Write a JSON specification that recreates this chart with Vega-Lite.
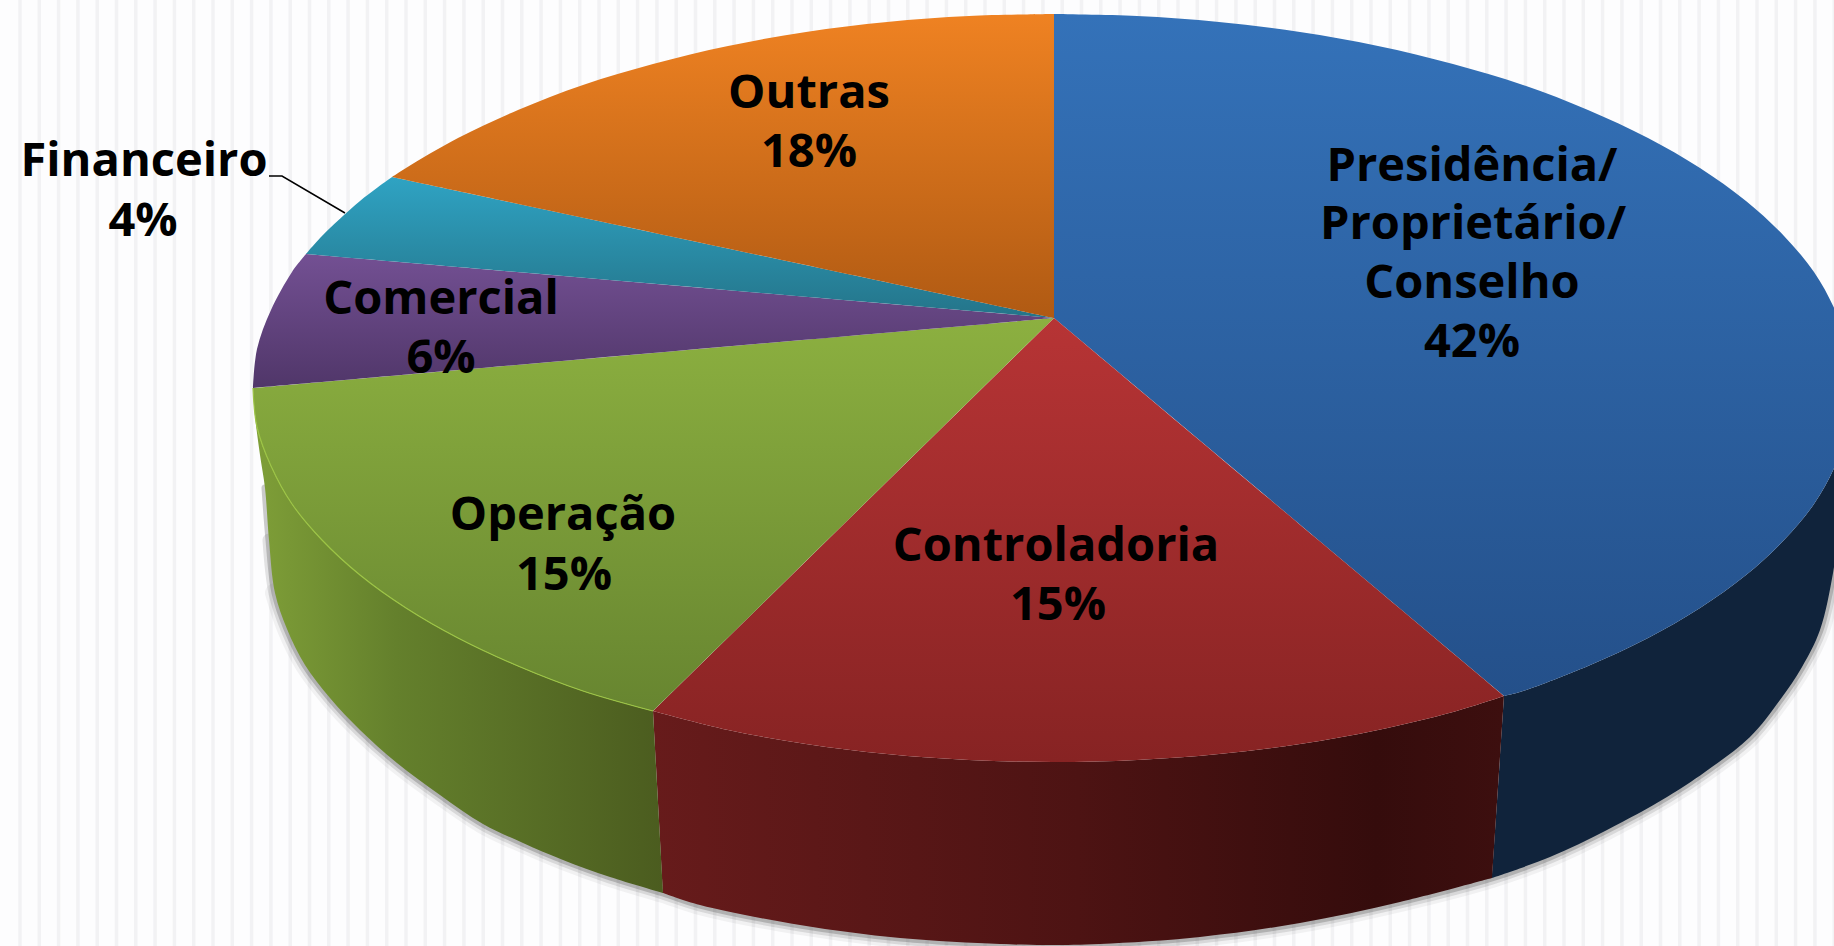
{"$schema":"https://vega.github.io/schema/vega-lite/v6.json","width":1834,"height":946,"padding":0,"autosize":{"type":"none"},"background":"#fdfdfe","view":{"stroke":null},"config":{"axis":{"domain":false,"ticks":false,"labels":false,"title":null,"grid":false}},
"datasets":{
"stripes":[{"x":20},{"x":39.3},{"x":58.6},{"x":77.9},{"x":97.2},{"x":116.5},{"x":135.8},{"x":155.1},{"x":174.4},{"x":193.7},{"x":213},{"x":232.3},{"x":251.6},{"x":270.9},{"x":290.2},{"x":309.5},{"x":328.8},{"x":348.1},{"x":367.4},{"x":386.7},{"x":406},{"x":425.3},{"x":444.6},{"x":463.9},{"x":483.2},{"x":502.5},{"x":521.8},{"x":541.1},{"x":560.4},{"x":579.7},{"x":599},{"x":618.3},{"x":637.6},{"x":656.9},{"x":676.2},{"x":695.5},{"x":714.8},{"x":734.1},{"x":753.4},{"x":772.7},{"x":792},{"x":811.3},{"x":830.6},{"x":849.9},{"x":869.2},{"x":888.5},{"x":907.8},{"x":927.1},{"x":946.4},{"x":965.7},{"x":985},{"x":1004.3},{"x":1023.6},{"x":1042.9},{"x":1062.2},{"x":1081.5},{"x":1100.8},{"x":1120.1},{"x":1139.4},{"x":1158.7},{"x":1178},{"x":1197.3},{"x":1216.6},{"x":1235.9},{"x":1255.2},{"x":1274.5},{"x":1293.8},{"x":1313.1},{"x":1332.4},{"x":1351.7},{"x":1371},{"x":1390.3},{"x":1409.6},{"x":1428.9},{"x":1448.2},{"x":1467.5},{"x":1486.8},{"x":1506.1},{"x":1525.4},{"x":1544.7},{"x":1564},{"x":1583.3},{"x":1602.6},{"x":1621.9},{"x":1641.2},{"x":1660.5},{"x":1679.8},{"x":1699.1},{"x":1718.4},{"x":1737.7},{"x":1757},{"x":1776.3},{"x":1795.6},{"x":1814.9},{"x":1834.2}],
"shape":[
{"s":"Z","i":3,"x":265,"y":488},{"s":"Z","i":4,"x":269,"y":540},{"s":"Z","i":5,"x":275,"y":593},{"s":"Z","i":6,"x":287,"y":629},{"s":"Z","i":7,"x":305,"y":665},{"s":"Z","i":8,"x":330,"y":698},{"s":"Z","i":9,"x":360,"y":730},{"s":"Z","i":10,"x":397,"y":763},{"s":"Z","i":11,"x":440,"y":795},{"s":"Z","i":12,"x":483,"y":824},{"s":"Z","i":13,"x":523,"y":843},{"s":"Z","i":14,"x":563,"y":860},{"s":"Z","i":15,"x":610,"y":877},{"s":"Z","i":16,"x":663,"y":893},{"s":"Z","i":17,"x":700,"y":905},{"s":"Z","i":18,"x":800,"y":925},{"s":"Z","i":19,"x":900,"y":938},{"s":"Z","i":20,"x":1000,"y":944},{"s":"Z","i":21,"x":1045,"y":945},{"s":"Z","i":22,"x":1100,"y":944},{"s":"Z","i":23,"x":1200,"y":937},{"s":"Z","i":24,"x":1300,"y":923},{"s":"Z","i":25,"x":1400,"y":902},{"s":"Z","i":26,"x":1492,"y":878},{"s":"Z","i":27,"x":1550,"y":857},{"s":"Z","i":28,"x":1607,"y":830},{"s":"Z","i":29,"x":1667,"y":797},{"s":"Z","i":30,"x":1705,"y":772},{"s":"Z","i":31,"x":1750,"y":737},{"s":"Z","i":32,"x":1780,"y":700},{"s":"Z","i":33,"x":1802,"y":667},{"s":"Z","i":34,"x":1820,"y":630},{"s":"Z","i":35,"x":1833,"y":573},{"s":"Z","i":36,"x":1840,"y":520},
{"s":"SP","i":1,"x":1849,"y":427},{"s":"SP","i":2,"x":1835,"y":466},{"s":"SP","i":3,"x":1814,"y":504},{"s":"SP","i":4,"x":1784,"y":540},{"s":"SP","i":5,"x":1746,"y":575},{"s":"SP","i":6,"x":1700,"y":608},{"s":"SP","i":7,"x":1648,"y":638},{"s":"SP","i":8,"x":1588,"y":666},{"s":"SP","i":9,"x":1523,"y":691},{"s":"SP","i":10,"x":1504,"y":696},{"s":"SP","i":10.5,"x":1504,"y":696},{"s":"SP","i":11,"x":1492,"y":878},{"s":"SP","i":11.5,"x":1492,"y":878},{"s":"SP","i":12,"x":1550,"y":857},{"s":"SP","i":13,"x":1607,"y":830},{"s":"SP","i":14,"x":1667,"y":797},{"s":"SP","i":15,"x":1705,"y":772},{"s":"SP","i":16,"x":1750,"y":737},{"s":"SP","i":17,"x":1780,"y":700},{"s":"SP","i":18,"x":1802,"y":667},{"s":"SP","i":19,"x":1820,"y":630},{"s":"SP","i":20,"x":1833,"y":573},{"s":"SP","i":21,"x":1840,"y":520},
{"s":"SC","i":1,"x":1504,"y":696},{"s":"SC","i":2,"x":1453,"y":712},{"s":"SC","i":3,"x":1378,"y":730},{"s":"SC","i":4,"x":1300,"y":744},{"s":"SC","i":5,"x":1219,"y":754},{"s":"SC","i":6,"x":1137,"y":760},{"s":"SC","i":7,"x":1053,"y":762},{"s":"SC","i":8,"x":969,"y":760},{"s":"SC","i":9,"x":887,"y":754},{"s":"SC","i":10,"x":806,"y":744},{"s":"SC","i":11,"x":728,"y":730},{"s":"SC","i":12,"x":653,"y":711},{"s":"SC","i":12.5,"x":653,"y":711},{"s":"SC","i":13,"x":663,"y":893},{"s":"SC","i":13.5,"x":663,"y":893},{"s":"SC","i":14,"x":700,"y":905},{"s":"SC","i":15,"x":800,"y":925},{"s":"SC","i":16,"x":900,"y":938},{"s":"SC","i":17,"x":1000,"y":944},{"s":"SC","i":18,"x":1045,"y":945},{"s":"SC","i":19,"x":1100,"y":944},{"s":"SC","i":20,"x":1200,"y":937},{"s":"SC","i":21,"x":1300,"y":923},{"s":"SC","i":22,"x":1400,"y":902},{"s":"SC","i":23,"x":1492,"y":878},
{"s":"SO","i":1,"x":653,"y":711},{"s":"SO","i":2,"x":583,"y":691},{"s":"SO","i":3,"x":518,"y":666},{"s":"SO","i":4,"x":458,"y":638},{"s":"SO","i":5,"x":406,"y":608},{"s":"SO","i":6,"x":360,"y":575},{"s":"SO","i":7,"x":322,"y":540},{"s":"SO","i":8,"x":292,"y":504},{"s":"SO","i":9,"x":271,"y":466},{"s":"SO","i":10,"x":257,"y":427},{"s":"SO","i":11,"x":253,"y":388},{"s":"SO","i":11.5,"x":253,"y":388},{"s":"SO","i":12,"x":255,"y":416},{"s":"SO","i":13,"x":260,"y":455},{"s":"SO","i":14,"x":265,"y":488},{"s":"SO","i":15,"x":269,"y":540},{"s":"SO","i":16,"x":275,"y":593},{"s":"SO","i":17,"x":287,"y":629},{"s":"SO","i":18,"x":305,"y":665},{"s":"SO","i":19,"x":330,"y":698},{"s":"SO","i":20,"x":360,"y":730},{"s":"SO","i":21,"x":397,"y":763},{"s":"SO","i":22,"x":440,"y":795},{"s":"SO","i":23,"x":483,"y":824},{"s":"SO","i":24,"x":523,"y":843},{"s":"SO","i":25,"x":563,"y":860},{"s":"SO","i":26,"x":610,"y":877},{"s":"SO","i":27,"x":663,"y":893},
{"s":"P","i":0,"x":1054,"y":318},{"s":"P","i":1,"x":1054,"y":14},{"s":"P","i":1.5,"x":1054,"y":14},{"s":"P","i":2,"x":1137,"y":16},{"s":"P","i":3,"x":1219,"y":22},{"s":"P","i":4,"x":1300,"y":32},{"s":"P","i":5,"x":1378,"y":46},{"s":"P","i":6,"x":1453,"y":64},{"s":"P","i":7,"x":1523,"y":85},{"s":"P","i":8,"x":1588,"y":110},{"s":"P","i":9,"x":1648,"y":138},{"s":"P","i":10,"x":1700,"y":168},{"s":"P","i":11,"x":1746,"y":201},{"s":"P","i":12,"x":1784,"y":236},{"s":"P","i":13,"x":1814,"y":272},{"s":"P","i":14,"x":1835,"y":310},{"s":"P","i":15,"x":1849,"y":349},{"s":"P","i":16,"x":1853,"y":388},{"s":"P","i":17,"x":1849,"y":427},{"s":"P","i":18,"x":1835,"y":466},{"s":"P","i":19,"x":1814,"y":504},{"s":"P","i":20,"x":1784,"y":540},{"s":"P","i":21,"x":1746,"y":575},{"s":"P","i":22,"x":1700,"y":608},{"s":"P","i":23,"x":1648,"y":638},{"s":"P","i":24,"x":1588,"y":666},{"s":"P","i":25,"x":1523,"y":691},{"s":"P","i":26,"x":1504,"y":696},
{"s":"C","i":0,"x":1054,"y":318},{"s":"C","i":1,"x":1504,"y":696},{"s":"C","i":1.5,"x":1504,"y":696},{"s":"C","i":2,"x":1453,"y":712},{"s":"C","i":3,"x":1378,"y":730},{"s":"C","i":4,"x":1300,"y":744},{"s":"C","i":5,"x":1219,"y":754},{"s":"C","i":6,"x":1137,"y":760},{"s":"C","i":7,"x":1053,"y":762},{"s":"C","i":8,"x":969,"y":760},{"s":"C","i":9,"x":887,"y":754},{"s":"C","i":10,"x":806,"y":744},{"s":"C","i":11,"x":728,"y":730},{"s":"C","i":12,"x":653,"y":711},
{"s":"O","i":0,"x":1054,"y":318},{"s":"O","i":1,"x":653,"y":711},{"s":"O","i":1.5,"x":653,"y":711},{"s":"O","i":2,"x":583,"y":691},{"s":"O","i":3,"x":518,"y":666},{"s":"O","i":4,"x":458,"y":638},{"s":"O","i":5,"x":406,"y":608},{"s":"O","i":6,"x":360,"y":575},{"s":"O","i":7,"x":322,"y":540},{"s":"O","i":8,"x":292,"y":504},{"s":"O","i":9,"x":271,"y":466},{"s":"O","i":10,"x":257,"y":427},{"s":"O","i":11,"x":253,"y":388},
{"s":"M","i":0,"x":1054,"y":318},{"s":"M","i":1,"x":253,"y":388},{"s":"M","i":1.5,"x":253,"y":388},{"s":"M","i":2,"x":257,"y":349},{"s":"M","i":3,"x":271,"y":310},{"s":"M","i":4,"x":292,"y":272},{"s":"M","i":5,"x":306,"y":254},
{"s":"F","i":0,"x":1054,"y":318},{"s":"F","i":1,"x":306,"y":254},{"s":"F","i":1.5,"x":306,"y":254},{"s":"F","i":2,"x":322,"y":236},{"s":"F","i":3,"x":360,"y":201},{"s":"F","i":4,"x":392,"y":177},
{"s":"U","i":0,"x":1054,"y":318},{"s":"U","i":1,"x":392,"y":177},{"s":"U","i":1.5,"x":392,"y":177},{"s":"U","i":2,"x":406,"y":168},{"s":"U","i":3,"x":458,"y":138},{"s":"U","i":4,"x":518,"y":110},{"s":"U","i":5,"x":583,"y":85},{"s":"U","i":6,"x":653,"y":64},{"s":"U","i":7,"x":728,"y":46},{"s":"U","i":8,"x":806,"y":32},{"s":"U","i":9,"x":887,"y":22},{"s":"U","i":10,"x":969,"y":16},{"s":"U","i":11,"x":1054,"y":14},
{"s":"L","i":1,"x":269,"y":176},{"s":"L","i":2,"x":282,"y":176},{"s":"L","i":3,"x":345,"y":213}
],
"labels":[
{"t":"Presidência/","x":1472,"y":181},{"t":"Proprietário/","x":1473,"y":239},{"t":"Conselho","x":1472,"y":298},{"t":"42%","x":1472,"y":357},
{"t":"Controladoria","x":1056,"y":561},{"t":"15%","x":1058,"y":620},
{"t":"Operação","x":563,"y":530},{"t":"15%","x":564,"y":590},
{"t":"Comercial","x":441,"y":314},{"t":"6%","x":441,"y":373},
{"t":"Financeiro","x":144,"y":176},{"t":"4%","x":143,"y":236},
{"t":"Outras","x":809,"y":108},{"t":"18%","x":809,"y":167}
]},
"layer":[
{"data":{"name":"stripes"},"mark":{"type":"rule","stroke":"#f2f2f4","strokeWidth":3.5},"encoding":{"x":{"field":"x","type":"quantitative","scale":{"domain":[0,1834]},"axis":null}}},
{"data":{"name":"shape"},"transform":[{"filter":"datum.s=='Z' && datum.i>=5"}],"mark":{"type":"line","stroke":"#555555","strokeWidth":20,"opacity":0.07,"clip":true,"interpolate":"catmull-rom","strokeCap":"round"},"encoding":{"x":{"field":"x","type":"quantitative","scale":{"domain":[0,1834]},"axis":null},"y":{"field":"y","type":"quantitative","scale":{"domain":[0,946],"reverse":true},"axis":null},"order":{"field":"i"}}},
{"data":{"name":"shape"},"transform":[{"filter":"datum.s=='Z' && datum.i>=4"}],"mark":{"type":"line","stroke":"#555555","strokeWidth":13,"opacity":0.16,"clip":true,"interpolate":"catmull-rom","strokeCap":"round"},"encoding":{"x":{"field":"x","type":"quantitative","scale":{"domain":[0,1834]},"axis":null},"y":{"field":"y","type":"quantitative","scale":{"domain":[0,946],"reverse":true},"axis":null},"order":{"field":"i"}}},
{"data":{"name":"shape"},"transform":[{"filter":"datum.s=='Z'"}],"mark":{"type":"line","stroke":"#555555","strokeWidth":7,"opacity":0.3,"clip":true,"interpolate":"catmull-rom","strokeCap":"round"},"encoding":{"x":{"field":"x","type":"quantitative","scale":{"domain":[0,1834]},"axis":null},"y":{"field":"y","type":"quantitative","scale":{"domain":[0,946],"reverse":true},"axis":null},"order":{"field":"i"}}},
{"data":{"name":"shape"},"transform":[{"filter":"datum.s=='SP'"}],"mark":{"type":"line","strokeWidth":0,"fill":"#10233b","clip":true,"interpolate":"catmull-rom"},"encoding":{"x":{"field":"x","type":"quantitative","scale":{"domain":[0,1834]},"axis":null},"y":{"field":"y","type":"quantitative","scale":{"domain":[0,946],"reverse":true},"axis":null},"order":{"field":"i"}}},
{"data":{"name":"shape"},"transform":[{"filter":"datum.s=='SC'"}],"mark":{"type":"line","strokeWidth":0,"interpolate":"catmull-rom","fill":{"gradient":"linear","x1":0,"y1":0,"x2":1,"y2":0,"stops":[{"offset":0,"color":"#671b1b"},{"offset":0.5,"color":"#4d1313"},{"offset":0.85,"color":"#350c0c"},{"offset":1,"color":"#3d0f0f"}]},"clip":true},"encoding":{"x":{"field":"x","type":"quantitative","scale":{"domain":[0,1834]},"axis":null},"y":{"field":"y","type":"quantitative","scale":{"domain":[0,946],"reverse":true},"axis":null},"order":{"field":"i"}}},
{"data":{"name":"shape"},"transform":[{"filter":"datum.s=='SO'"}],"mark":{"type":"line","strokeWidth":0,"interpolate":"catmull-rom","fill":{"gradient":"linear","x1":0,"y1":0,"x2":1,"y2":0,"stops":[{"offset":0,"color":"#7f9f38"},{"offset":0.35,"color":"#64802c"},{"offset":1,"color":"#4b5c1f"}]},"clip":true},"encoding":{"x":{"field":"x","type":"quantitative","scale":{"domain":[0,1834]},"axis":null},"y":{"field":"y","type":"quantitative","scale":{"domain":[0,946],"reverse":true},"axis":null},"order":{"field":"i"}}},
{"data":{"name":"shape"},"transform":[{"filter":"datum.s=='P'"}],"mark":{"type":"line","strokeWidth":0,"interpolate":"catmull-rom","fill":{"gradient":"linear","x1":0,"y1":0,"x2":0,"y2":1,"stops":[{"offset":0,"color":"#3472b9"},{"offset":1,"color":"#24508a"}]},"clip":true},"encoding":{"x":{"field":"x","type":"quantitative","scale":{"domain":[0,1834]},"axis":null},"y":{"field":"y","type":"quantitative","scale":{"domain":[0,946],"reverse":true},"axis":null},"order":{"field":"i"}}},
{"data":{"name":"shape"},"transform":[{"filter":"datum.s=='C'"}],"mark":{"type":"line","strokeWidth":0,"interpolate":"catmull-rom","fill":{"gradient":"linear","x1":0,"y1":0,"x2":0,"y2":1,"stops":[{"offset":0,"color":"#b73435"},{"offset":1,"color":"#872323"}]},"clip":true},"encoding":{"x":{"field":"x","type":"quantitative","scale":{"domain":[0,1834]},"axis":null},"y":{"field":"y","type":"quantitative","scale":{"domain":[0,946],"reverse":true},"axis":null},"order":{"field":"i"}}},
{"data":{"name":"shape"},"transform":[{"filter":"datum.s=='O'"}],"mark":{"type":"line","strokeWidth":0,"interpolate":"catmull-rom","fill":{"gradient":"linear","x1":0,"y1":0,"x2":0,"y2":1,"stops":[{"offset":0,"color":"#8cb040"},{"offset":1,"color":"#678530"}]},"clip":true},"encoding":{"x":{"field":"x","type":"quantitative","scale":{"domain":[0,1834]},"axis":null},"y":{"field":"y","type":"quantitative","scale":{"domain":[0,946],"reverse":true},"axis":null},"order":{"field":"i"}}},
{"data":{"name":"shape"},"transform":[{"filter":"datum.s=='M'"}],"mark":{"type":"line","strokeWidth":0,"interpolate":"catmull-rom","fill":{"gradient":"linear","x1":0,"y1":0,"x2":0,"y2":1,"stops":[{"offset":0,"color":"#735093"},{"offset":1,"color":"#503669"}]},"clip":true},"encoding":{"x":{"field":"x","type":"quantitative","scale":{"domain":[0,1834]},"axis":null},"y":{"field":"y","type":"quantitative","scale":{"domain":[0,946],"reverse":true},"axis":null},"order":{"field":"i"}}},
{"data":{"name":"shape"},"transform":[{"filter":"datum.s=='F'"}],"mark":{"type":"line","strokeWidth":0,"interpolate":"catmull-rom","fill":{"gradient":"linear","x1":0,"y1":0,"x2":0,"y2":1,"stops":[{"offset":0,"color":"#2fa3c3"},{"offset":1,"color":"#247489"}]},"clip":true},"encoding":{"x":{"field":"x","type":"quantitative","scale":{"domain":[0,1834]},"axis":null},"y":{"field":"y","type":"quantitative","scale":{"domain":[0,946],"reverse":true},"axis":null},"order":{"field":"i"}}},
{"data":{"name":"shape"},"transform":[{"filter":"datum.s=='U'"}],"mark":{"type":"line","strokeWidth":0,"interpolate":"catmull-rom","fill":{"gradient":"linear","x1":0,"y1":0,"x2":0,"y2":1,"stops":[{"offset":0,"color":"#ef8222"},{"offset":1,"color":"#b05a13"}]},"clip":true},"encoding":{"x":{"field":"x","type":"quantitative","scale":{"domain":[0,1834]},"axis":null},"y":{"field":"y","type":"quantitative","scale":{"domain":[0,946],"reverse":true},"axis":null},"order":{"field":"i"}}},
{"data":{"name":"shape"},"transform":[{"filter":"datum.s=='O' && datum.i>=1.5"}],"mark":{"type":"line","stroke":"#9cc445","strokeWidth":1.2,"clip":true,"interpolate":"catmull-rom"},"encoding":{"x":{"field":"x","type":"quantitative","scale":{"domain":[0,1834]},"axis":null},"y":{"field":"y","type":"quantitative","scale":{"domain":[0,946],"reverse":true},"axis":null},"order":{"field":"i"}}},
{"data":{"name":"shape"},"transform":[{"filter":"datum.s=='L'"}],"mark":{"type":"line","stroke":"#000000","strokeWidth":1.5},"encoding":{"x":{"field":"x","type":"quantitative","scale":{"domain":[0,1834]},"axis":null},"y":{"field":"y","type":"quantitative","scale":{"domain":[0,946],"reverse":true},"axis":null},"order":{"field":"i"}}},
{"data":{"name":"labels"},"mark":{"type":"text","font":"Open Sans","fontWeight":"bold","fontSize":47,"color":"#000000","align":"center","baseline":"alphabetic"},"encoding":{"x":{"field":"x","type":"quantitative","scale":{"domain":[0,1834]},"axis":null},"y":{"field":"y","type":"quantitative","scale":{"domain":[0,946],"reverse":true},"axis":null},"text":{"field":"t"}}}
]}
